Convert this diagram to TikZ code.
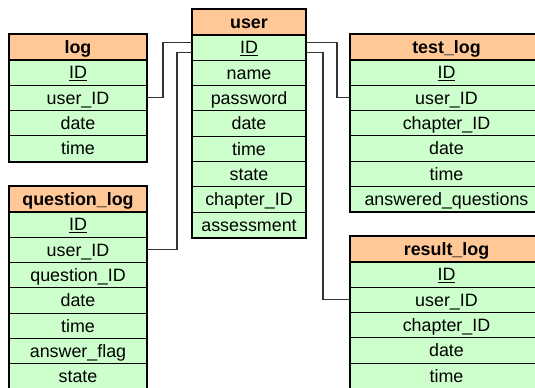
\documentclass[tikz,border=0pt]{standalone}
\usepackage{fontspec}
\setmainfont{Liberation Sans}
\usetikzlibrary{calc}
\definecolor{hdrfill}{HTML}{FFC896}
\definecolor{rowfill}{HTML}{CCFFCC}
\definecolor{connclr}{HTML}{333333}
\tikzset{
  cell/.style={draw=black, line width=0.75pt, inner sep=0pt, minimum height=19pt,
    text height=9.6pt, text depth=0pt, anchor=north west},
  hdr/.style={cell, fill=hdrfill, font=\fontsize{13.4pt}{15pt}\selectfont\bfseries},
  fld/.style={cell, fill=rowfill, font=\fontsize{13.4pt}{15pt}\selectfont},
  outer/.style={draw=black, line width=1.5pt},
  conn/.style={draw=connclr, line width=0.9pt},
}
% #1 name, #2 x, #3 y, #4 width (px), #5 title, #6 fields, #7 number of fields
\newcommand\dbtab[7]{%
  \node[hdr, minimum width=#4*0.75pt] (#1-0) at (#2,#3) {#5};
  \foreach \f [count=\i] in {#6} {
    \node[fld, minimum width=#4*0.75pt] (#1-\i) at (#2,{#3+\i*25.33}) {\f};
  }
  \draw[outer] (#1-0.south west) -- (#1-0.south east);
  \draw[outer] (#1-0.north west) rectangle (#1-#7.south east);
}
\begin{document}
\begin{tikzpicture}[x=0.75pt,y=-0.75pt]
\useasboundingbox (0,0) rectangle (535,388);
\clip (0,0) rectangle (535,388);
\dbtab{log}{9}{34}{137}{log}{\underline{ID},user\_ID,date,time}{4}
\dbtab{user}{192}{9}{113}{user}{\underline{ID},name,password,date,time,state,chapter\_ID,assessment}{8}
\dbtab{test}{350}{34}{192}{test\_log}{\underline{ID},user\_ID,chapter\_ID,date,time,answered\_questions}{6}
\dbtab{qlog}{9}{186}{137}{question\_log}{\underline{ID},user\_ID,question\_ID,date,time,answer\_flag,state}{7}
\dbtab{rlog}{350}{236}{192}{result\_log}{\underline{ID},user\_ID,chapter\_ID,date,time}{5}
\draw[conn] (log-2.east) -- ++(16,0) |- ($(user-1.west)+(0,-5)$);
\draw[conn] (qlog-2.east) -- ++(30,0) |- ($(user-1.west)+(0,5)$);
\draw[conn] ($(user-1.east)+(0,-5)$) -| ($(test-2.west)+(-13,0)$) -- (test-2.west);
\draw[conn] ($(user-1.east)+(0,5)$) -| ($(rlog-2.west)+(-27,0)$) -- (rlog-2.west);
\end{tikzpicture}
\end{document}
